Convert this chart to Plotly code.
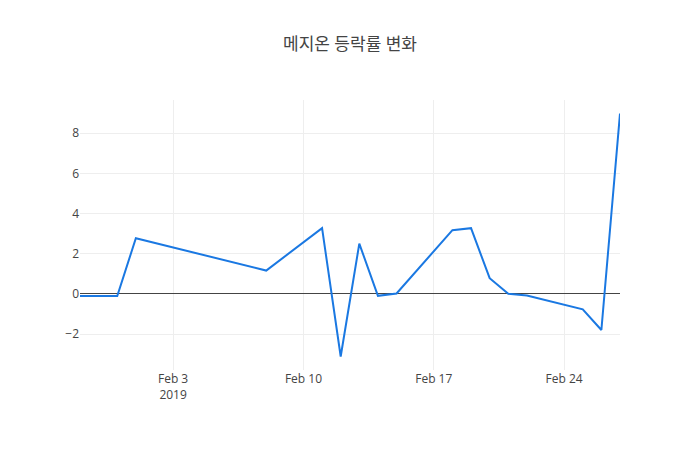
import plotly.graph_objects as go

# 메지온 daily change (%)
dates = ["2019-01-29", "2019-01-30", "2019-01-31", "2019-02-01", "2019-02-08",
         "2019-02-11", "2019-02-12", "2019-02-13", "2019-02-14", "2019-02-15",
         "2019-02-18", "2019-02-19", "2019-02-20", "2019-02-21", "2019-02-22",
         "2019-02-25", "2019-02-26", "2019-02-27"]
changes = [-0.11, -0.11, -0.11, 2.77, 1.16,
           3.27, -3.12, 2.50, -0.10, 0.02,
           3.17, 3.27, 0.78, 0.0, -0.08,
           -0.77, -1.80, 8.98]

fig = go.Figure()
fig.add_trace(go.Scatter(
    x=dates,
    y=changes,
    mode="lines",
    line=dict(color="#1a78e2", width=2),
))

fig.update_layout(
    template="none",
    title=dict(text="메지온 등락률 변화", font=dict(size=17)),
    font=dict(family="Open Sans, Noto Sans CJK KR", color="#444"),
    width=700,
    height=450,
    margin=dict(l=80, r=80, t=100, b=80),
    plot_bgcolor="white",
    paper_bgcolor="white",
    xaxis=dict(gridcolor="#eee", showline=False, zeroline=False),
    yaxis=dict(gridcolor="#eee", zerolinecolor="#444", zerolinewidth=1,
               showline=False),
    showlegend=False,
)

# drop the browser's default body margin so the figure sits at the page corner
fig.write_html("out.html",
               config={"displayModeBar": False},
               post_script="document.body.style.margin = '0';")
